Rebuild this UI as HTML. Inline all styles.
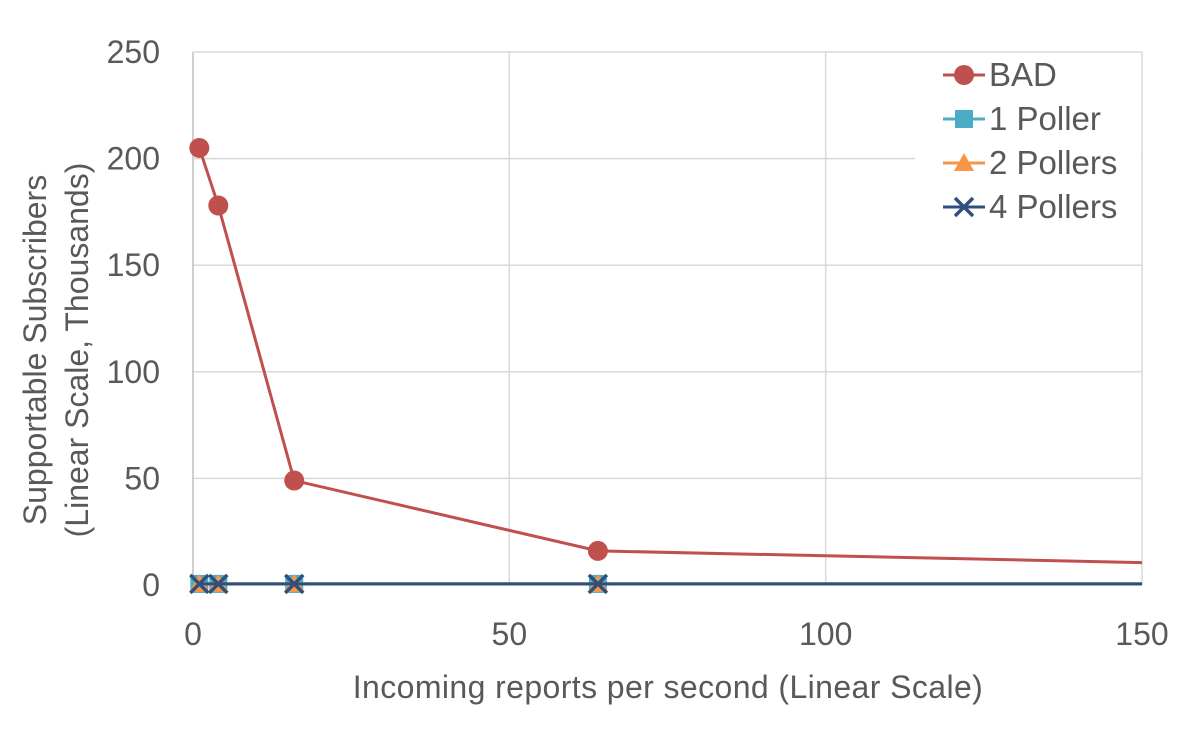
<!DOCTYPE html>
<html><head><meta charset="utf-8"><style>
body{margin:0;background:#fff;}
svg text{font-family:"Liberation Sans",Arial,sans-serif;fill:#595959;}
</style></head><body>
<svg id="chart" width="1191" height="725" xmlns="http://www.w3.org/2000/svg">
<g id="grid"></g><g id="axes"></g><g id="series"></g><g id="legend"></g>
</svg>
<script>
const xTicks=[0,50,100,150];
const yTicks=[0,50,100,150,200,250];
const xBad=[1,4,16,64,150];
const yBad=[205,178,49,16,10.5];
const xPollers=[1,4,16,64,150];
const yPoller1=[0.5,0.5,0.5,0.5,0.5];
const yPoller2=[0.5,0.5,0.5,0.5,0.5];
const yPoller4=[0.5,0.5,0.5,0.5,0.5];
const NS="http://www.w3.org/2000/svg";
const X0=193,X1=1142,Y0=585,Y1=52;
const sx=v=>X0+(v-0)/150*(X1-X0);
const sy=v=>Y0-(v-0)/250*(Y0-Y1);
function mk(t,a,p){const e=document.createElementNS(NS,t);for(const k in a)e.setAttribute(k,a[k]);p.appendChild(e);return e;}
const grid=document.getElementById('grid'),axes=document.getElementById('axes'),ser=document.getElementById('series'),leg=document.getElementById('legend');
yTicks.forEach(v=>{
 const l=mk('line',{x1:X0,x2:X1,y1:sy(v),y2:sy(v),stroke:'#d9d9d9','stroke-width':1.5},grid);
 
 
 const t=mk('text',{x:X0-33,y:sy(v)+11,'text-anchor':'end','font-size':32},axes);t.textContent=v;
 
 
});
xTicks.forEach(v=>{
 const l=mk('line',{x1:sx(v),x2:sx(v),y1:Y1,y2:Y0,stroke:v===0?'#bfbfbf':'#d9d9d9','stroke-width':1.5},grid);
 
 
 const t=mk('text',{x:sx(v),y:645,'text-anchor':'middle','font-size':32},axes);t.textContent=v;
 
 
});
let t=mk('text',{x:668,y:698,'text-anchor':'middle','font-size':32,'letter-spacing':0.4},axes);t.textContent='Incoming reports per second (Linear Scale)';


t=mk('text',{transform:'translate(46,350) rotate(-90)','text-anchor':'middle','font-size':32},axes);


const s1=mk('tspan',{x:0,dy:0},t);s1.textContent='Supportable Subscribers';
const s2=mk('tspan',{x:0,dy:42},t);s2.textContent='(Linear Scale, Thousands)';
function marker(type,x,y,c,g){
 if(type==='circle')return mk('circle',{cx:x,cy:y,r:10,fill:c},g);
 if(type==='square')return mk('rect',{x:x-9,y:y-9,width:18,height:18,fill:c},g);
 if(type==='tri')return mk('polygon',{points:`${x},${y-10} ${x+10},${y+8} ${x-10},${y+8}`,fill:c},g);
 return mk('path',{d:`M${x-9},${y-9}L${x+9},${y+9}M${x+9},${y-9}L${x-9},${y+9}`,stroke:c,'stroke-width':3.5},g);
}
const series=[
 {name:'series-1-poller',xs:xPollers,ys:yPoller1,c:'#4bacc6',m:'square'},
 {name:'series-2-pollers',xs:xPollers,ys:yPoller2,c:'#f79646',m:'tri'},
 {name:'series-4-pollers',xs:xPollers,ys:yPoller4,c:'#2f4f7f',m:'x'},
 {name:'series-bad',xs:xBad,ys:yBad,c:'#c0504d',m:'circle'}
];
series.forEach(s=>{
 const g=mk('g',{},ser);
 
 
 const pl=mk('polyline',{points:s.xs.map((x,i)=>sx(x)+','+sy(s.ys[i])).join(' '),fill:'none',stroke:s.c,'stroke-width':3},g);
 
 
 s.xs.forEach((x,i)=>{if(x<150){const m=marker(s.m,sx(x),sy(s.ys[i]),s.c,g);
  
  }});
});
const lb=mk('rect',{x:915,y:58,width:226,height:170,fill:'#fff'},leg);


[['BAD','#c0504d','circle'],['1 Poller','#4bacc6','square'],['2 Pollers','#f79646','tri'],['4 Pollers','#2f4f7f','x']].forEach((e,i)=>{
 const y=75+i*44;
 const g=mk('g',{},leg);
 
 
 mk('line',{x1:943,x2:985,y1:y,y2:y,stroke:e[1],'stroke-width':3},g);
 marker(e[2],964,y,e[1],g);
 const tx=mk('text',{x:989,y:y+11,'font-size':33},g);tx.textContent=e[0];
});
</script>
</body></html>
